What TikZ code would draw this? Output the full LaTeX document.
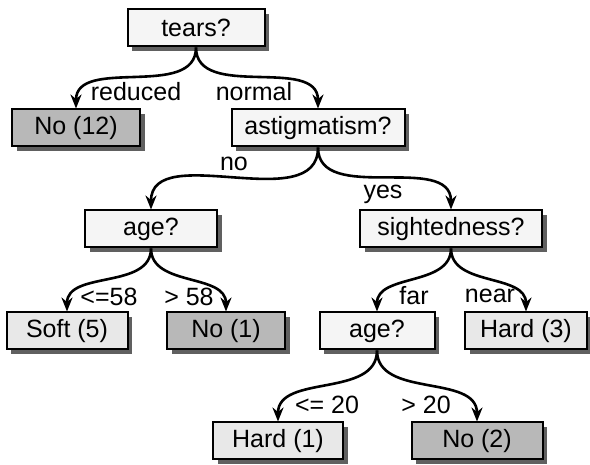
\documentclass[tikz,border=0pt]{standalone}
\usepackage{fontspec}
\setmainfont{Liberation Sans}
\usepackage{tikz}
\usetikzlibrary{arrows.meta, shadows}

\definecolor{inner}{HTML}{F5F5F5}
\definecolor{leaflight}{HTML}{E8E8E8}
\definecolor{leafdark}{HTML}{B8B8B8}
\definecolor{shade}{HTML}{606060}

\tikzset{
  box/.style={rectangle, draw, line width=2pt, minimum height=37pt, inner sep=0pt,
    font=\fontsize{25}{29}\selectfont,
    drop shadow={shadow xshift=4.5pt, shadow yshift=-4.5pt, fill=shade, opacity=1}},
  test/.style={box, fill=inner},
  yes/.style={box, fill=leaflight},
  no/.style={box, fill=leafdark},
  branch/.style={line width=2.6pt, -{Stealth[length=14pt, width=11pt]}},
  lab/.style={font=\fontsize{25}{29}\selectfont, inner sep=0pt}
}

\begin{document}
\begin{tikzpicture}[x=1pt, y=-1pt]
        \useasboundingbox (0,0) rectangle (590,465);

        % tree
        \node[test, minimum width=137pt] (1) at (196, 28) {tears?};
        \node[no, minimum width=128pt] (2) at (76, 128) {No (12)};
        \node[test, minimum width=173pt] (3) at (318, 128) {astigmatism?};
        \node[test, minimum width=132pt] (4) at (151, 229) {age?};
        \node[test, minimum width=182pt] (5) at (451, 229) {sightedness?};
        \node[yes, minimum width=121pt] (6) at (67, 331) {Soft (5)};
        \node[no, minimum width=118pt] (7) at (226, 331) {No (1)};
        \node[test, minimum width=115pt] (8) at (377, 331) {age?};
        \node[yes, minimum width=122pt] (9) at (526, 331) {Hard (3)};
        \node[yes, minimum width=130pt] (10) at (278, 441) {Hard (1)};
        \node[no, minimum width=131pt] (11) at (477, 441) {No (2)};

        \draw[branch] (1.south) to[out=-90, in=90] (2.north);
        \draw[branch] (1.south) to[out=-90, in=90] (3.north);
        \draw[branch] (3.south) to[out=-90, in=90] (4.north);
        \draw[branch] (3.south) to[out=-90, in=90] (5.north);
        \draw[branch] (4.south) to[out=-90, in=90] (6.north);
        \draw[branch] (4.south) to[out=-90, in=90] (7.north);
        \draw[branch] (5.south) to[out=-90, in=90] (8.north);
        \draw[branch] (5.south) to[out=-90, in=90] (9.north);
        \draw[branch] (8.south) to[out=-90, in=90] (10.north);
        \draw[branch] (8.south) to[out=-90, in=90] (11.north);

        % labels
        \node[lab] (l1) at (136, 92) {reduced};
        \node[lab] (l2) at (254, 92) {normal};
        \node[lab] (l3) at (234, 164) {no};
        \node[lab] (l4) at (383, 194) {yes};
        \node[lab] (l5) at (109, 297) {<=58};
        \node[lab] (l6) at (189, 297) {> 58};
        \node[lab] (l7) at (414, 296) {far};
        \node[lab] (l8) at (490, 296) {near};
        \node[lab] (l9) at (327, 405) {<= 20};
        \node[lab] (l10) at (426, 405) {> 20};

        \end{tikzpicture}
\end{document}
